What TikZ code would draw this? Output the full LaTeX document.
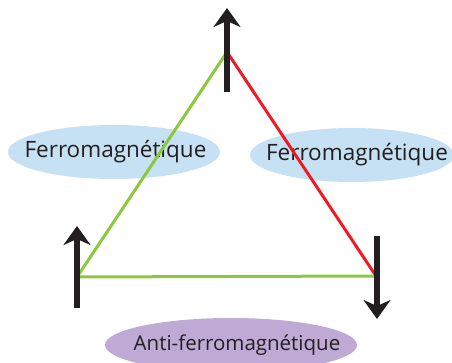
\documentclass[tikz,border=0pt]{standalone}
\usepackage{fontspec}
\setmainfont{Open Sans}
\usetikzlibrary{arrows.meta,shapes.geometric}
\definecolor{ferroblue}{RGB}{198,224,244}
\definecolor{antipurple}{RGB}{191,170,213}
\definecolor{bondgreen}{RGB}{141,198,63}
\definecolor{bondred}{RGB}{237,28,36}
\definecolor{spinblack}{RGB}{35,31,32}
\tikzset{
  phase/.style={ellipse, inner sep=0pt, minimum height=54pt, text=spinblack},
  spin/.style={spinblack, line width=6pt, -{Stealth[length=19pt,width=27pt,inset=6pt]}},
  bond/.style={line width=3pt}
}
\begin{document}
\begin{tikzpicture}[x=1pt, y=-1pt]
\useasboundingbox (0,0) rectangle (452,363);
\clip (0,0) rectangle (452,363);
% labelled ellipses
\node[phase, fill=ferroblue, minimum width=212pt, font=\fontsize{22.5}{26}\selectfont] (ferroL) at (114,152) {\makebox[0pt]{\hspace*{3pt}Ferromagnétique}};
\node[phase, fill=ferroblue, minimum width=204pt, font=\fontsize{22.5}{26}\selectfont] (ferroR) at (352,155) {\makebox[0pt]{\hspace*{10pt}Ferromagnétique}};
\node[phase, fill=antipurple, minimum width=252pt, font=\fontsize{20.5}{24}\selectfont] (anti) at (231,345) {\makebox[0pt]{\hspace*{12pt}Anti-ferromagnétique}};
% triangle corners
\coordinate (top) at (227,52);
\coordinate (left) at (77,277);
\coordinate (right) at (376,276);
% bonds
\draw[bond, bondgreen] (left) -- (top);
\draw[bond, bondred] (top) -- (right);
\draw[bond, bondgreen] (left) -- (right);
% spins
\coordinate (topS) at (227,92);  \coordinate (topN) at (227,8);
\coordinate (leftS) at (77,308); \coordinate (leftN) at (77,226);
\coordinate (rightN) at (377,236); \coordinate (rightS) at (377,319);
\draw[spin] (topS) -- (topN);
\draw[spin] (leftS) -- (leftN);
\draw[spin] (rightN) -- (rightS);
\end{tikzpicture}
\end{document}
